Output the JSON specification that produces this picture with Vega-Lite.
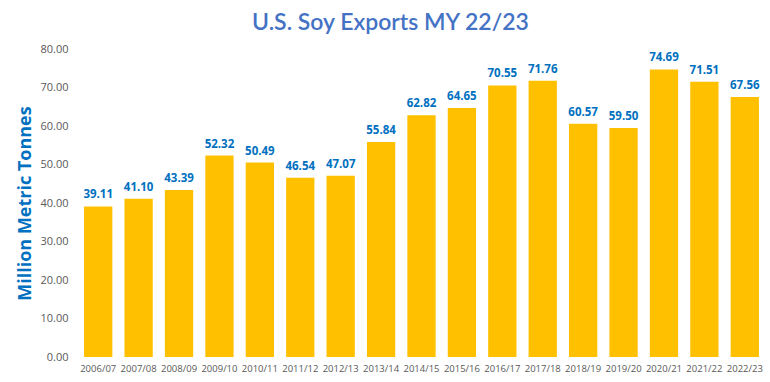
{
  "$schema": "https://vega.github.io/schema/vega-lite/v6.json",
  "autosize": "none",
  "width": 687,
  "height": 308,
  "padding": {"left": 78, "top": 49, "right": 5, "bottom": 25},
  "background": "white",
  "title": {
    "text": "U.S. Soy Exports MY 22/23",
    "font": "Lato",
    "fontSize": 23,
    "fontWeight": 600,
    "color": "#4472C4",
    "anchor": "middle",
    "dx": -31,
    "offset": 8
  },
  "config": {"view": {"stroke": null}},
  "data": {
    "values": [
      {"year": "2006/07", "value": 39.11},
      {"year": "2007/08", "value": 41.10},
      {"year": "2008/09", "value": 43.39},
      {"year": "2009/10", "value": 52.32},
      {"year": "2010/11", "value": 50.49},
      {"year": "2011/12", "value": 46.54},
      {"year": "2012/13", "value": 47.07},
      {"year": "2013/14", "value": 55.84},
      {"year": "2014/15", "value": 62.82},
      {"year": "2015/16", "value": 64.65},
      {"year": "2016/17", "value": 70.55},
      {"year": "2017/18", "value": 71.76},
      {"year": "2018/19", "value": 60.57},
      {"year": "2019/20", "value": 59.50},
      {"year": "2020/21", "value": 74.69},
      {"year": "2021/22", "value": 71.51},
      {"year": "2022/23", "value": 67.56}
    ]
  },
  "encoding": {
    "x": {
      "field": "year",
      "type": "ordinal",
      "sort": null,
      "scale": {"paddingInner": 0.3, "paddingOuter": 0.15},
      "axis": {
        "title": null,
        "labelAngle": 0,
        "labelFont": "Open Sans",
        "labelFontSize": 9.5,
        "labelColor": "#595959",
        "ticks": false,
        "domain": false,
        "labelPadding": 6
      }
    },
    "y": {
      "field": "value",
      "type": "quantitative",
      "scale": {"domain": [0, 80]},
      "axis": {
        "title": "Million Metric Tonnes",
        "titleFont": "Open Sans",
        "titleFontSize": 18,
        "titleFontWeight": "bold",
        "titleColor": "#0070C0",
        "titlePadding": 5,
        "values": [0, 10, 20, 30, 40, 50, 60, 70, 80],
        "format": ".2f",
        "labelFont": "Open Sans",
        "labelFontSize": 11,
        "labelColor": "#595959",
        "labelPadding": 10,
        "ticks": false,
        "domain": false,
        "grid": false
      }
    }
  },
  "layer": [
    {"mark": {"type": "bar", "color": "#FFC000"}},
    {
      "mark": {
        "type": "text",
        "dy": -11,
        "font": "Open Sans",
        "fontSize": 11.5,
        "fontWeight": "bold",
        "color": "#0070C0"
      },
      "encoding": {"text": {"field": "value", "type": "quantitative", "format": ".2f"}}
    }
  ]
}
